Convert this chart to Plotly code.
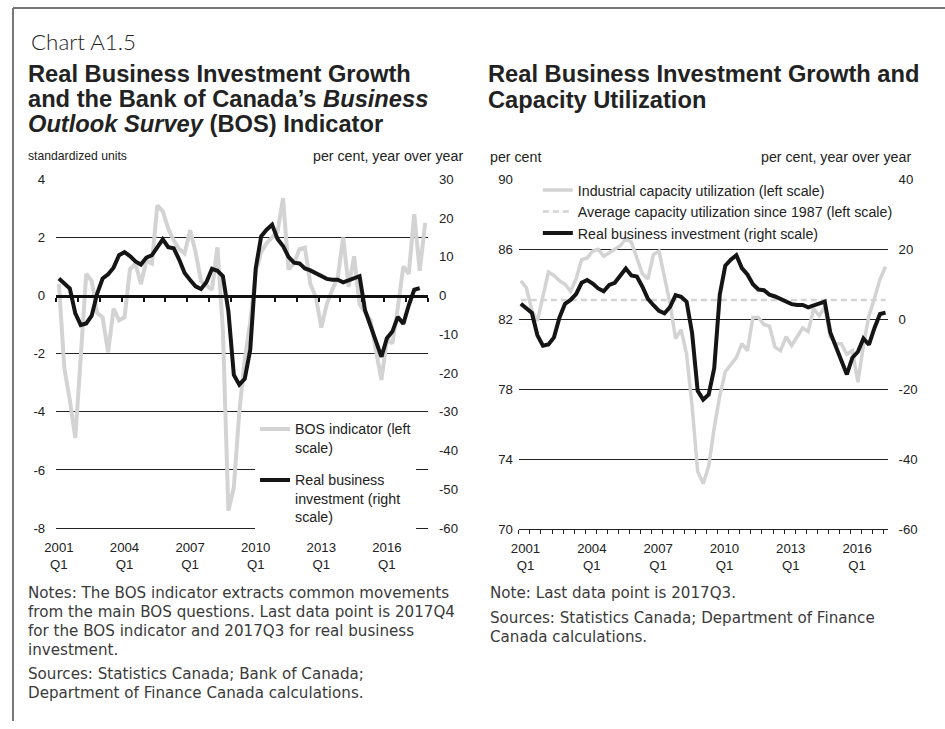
import plotly.graph_objects as go

# ---------------- data (quarterly, starting 2001Q1) ----------------
# BOS indicator, standardized units, 2001Q1..2017Q4
BOS = [0.4, -2.5, -3.6, -4.9, -2.1, 0.75, 0.5, -0.6, -0.75, -1.95,
       -0.45, -0.85, -0.75, 0.9, 1.1, 0.4, 1.2, 1.1, 3.1, 2.9,
       2.3, 1.9, 1.6, 1.45, 2.25, 1.5, 0.5, 0.35, 0.2, 1.66,
       -1.2, -7.4, -6.6, -4.0, -2.2, -0.9, 0.8, 1.5, 1.8, 2.0,
       2.2, 3.35, 0.9, 1.1, 1.6, 1.65, 0.4, -0.05, -1.1, -0.3,
       0.2, 0.6, 2.0, 0.3, 1.35, -0.3, -0.6, -0.85, -1.9, -2.9,
       -1.5, -1.65, -0.4, 1.0, 0.75, 2.8, 0.85, 2.5]

# Real business investment, % y/y, 2001Q1..2017Q3
RBI = [4.4, 3.0, 1.8, -4.6, -7.6, -7.2, -5.2, 0.5, 4.4, 5.5,
       7.2, 10.4, 11.2, 10.2, 8.8, 8.0, 9.8, 10.4, 12.6, 14.5,
       12.5, 12.2, 9.3, 5.8, 4.0, 2.4, 1.7, 3.5, 6.9, 6.4,
       5.0, -4.0, -20.5, -23.0, -21.5, -14.0, 7.0, 15.3, 17.0, 18.3,
       14.6, 12.8, 10.0, 8.5, 8.3, 7.0, 6.5, 5.7, 5.0, 4.3,
       4.1, 4.1, 3.4, 3.9, 4.4, 5.0, -3.8, -7.8, -12.2, -15.8,
       -11.0, -9.3, -5.5, -7.3, -2.5, 1.5, 1.9]

# Industrial capacity utilization, %, 2001Q1..2017Q3
CAPACITY = [84.2, 83.8, 82.5, 81.9, 83.3, 84.7, 84.5, 84.2, 84.0, 83.6,
            84.3, 85.4, 85.5, 85.9, 86.0, 85.6, 85.8, 86.0, 86.2, 86.6,
            86.4, 85.5, 84.6, 84.3, 85.7, 85.9, 84.5, 82.9, 80.9, 81.4,
            80.0, 77.0, 73.3, 72.6, 73.6, 75.8, 77.6, 79.0, 79.4, 79.8,
            80.6, 80.2, 82.1, 82.1, 81.7, 81.6, 80.4, 80.2, 81.0, 80.5,
            81.0, 81.5, 81.3, 82.6, 82.2, 82.7, 81.0, 80.6, 80.6, 80.0,
            80.2, 78.4, 80.5, 82.2, 83.2, 84.3, 85.0]

AVG_CAPACITY_SINCE_1987 = 83.1

TICK_YEARS = ["2001", "2004", "2007", "2010", "2013", "2016"]
TICK_TEXT = [y + "<br>Q1" for y in TICK_YEARS]

Y_BOS_TICKS = [4, 2, 0, -2, -4, -6, -8]
Y_RBI_LEFT_TICKS = [30, 20, 10, 0, -10, -20, -30, -40, -50, -60]
Y_CAP_TICKS = [90, 86, 82, 78, 74, 70]
Y_RBI_RIGHT_TICKS = [40, 20, 0, -20, -40, -60]

# ---------------- helpers ----------------
W, H = 945, 729
# mapping from target-picture pixels to page pixels (compensates the photo framing)
OX, SX = 10.8, 0.988
OY, SY = 6.6, 0.98
FS = 1 / 0.984

def fx(xr):
    return ((xr - OX) / SX) / W
def fy(yr):
    return 1 - ((yr - OY) / SY) / H
def fs(s):
    return round(s * FS, 2)

FONT = "Liberation Sans"
TXT = "#222222"
GRAY = "#d3d3d3"
BLACK = "#151515"

bos_x = list(range(len(BOS)))
rbi_x = list(range(len(RBI)))
cap_x = list(range(len(CAPACITY)))
avg_y = [AVG_CAPACITY_SINCE_1987] * len(CAPACITY)

fig = go.Figure()

# ---- left panel ----
fig.add_trace(go.Scatter(x=bos_x, y=BOS, mode="lines", name="BOS indicator (left<br>scale)",
                         line=dict(color=GRAY, width=4), xaxis="x", yaxis="y",
                         legend="legend", legendgroup="a"))
fig.add_trace(go.Scatter(x=rbi_x, y=RBI, mode="lines", name="Real business<br>investment (right<br>scale)",
                         line=dict(color=BLACK, width=4), xaxis="x", yaxis="y2",
                         legend="legend", legendgroup="b"))
# empty trace so the zero-line axis exists
fig.add_trace(go.Scatter(x=[], y=[], xaxis="x3", yaxis="y", showlegend=False, hoverinfo="skip"))

# ---- right panel ----
fig.add_trace(go.Scatter(x=cap_x, y=CAPACITY, mode="lines",
                         name="Industrial capacity utilization (left scale)",
                         line=dict(color=GRAY, width=3.5), xaxis="x2", yaxis="y3", legend="legend2"))
fig.add_trace(go.Scatter(x=cap_x, y=avg_y, mode="lines",
                         name="Average capacity utilization since 1987 (left scale)",
                         line=dict(color=GRAY, width=2.5, dash="6px,4px"), xaxis="x2", yaxis="y3",
                         legend="legend2"))
fig.add_trace(go.Scatter(x=rbi_x, y=RBI, mode="lines", name="Real business investment (right scale)",
                         line=dict(color=BLACK, width=4), xaxis="x2", yaxis="y4", legend="legend2"))

# ---- axes ----
L_X0, L_X1, L_Y0, L_Y1 = 55, 427, 179, 528
R_X0, R_X1, R_Y0, R_Y1 = 518, 887, 179, 529
tickfont = dict(family=FONT, size=fs(13), color=TXT)
label_pos = [12 * k for k in range(len(TICK_YEARS))]

ydom_left = [fy(L_Y1), fy(L_Y0)]
zero_pos = ydom_left[0] + (ydom_left[1] - ydom_left[0]) * (0 - (-8)) / (4 - (-8))

def ticks(vals):
    return dict(tickmode="array", tickvals=vals, ticktext=[str(v) for v in vals])

fig.update_layout(
    xaxis=dict(domain=[fx(L_X0), fx(L_X1)], anchor="y", range=[-0.5, 67.5],
               showgrid=False, zeroline=False, showline=True, linecolor="#222", linewidth=1.3,
               ticks="", tickmode="array", tickvals=label_pos, ticktext=TICK_TEXT,
               tickfont=tickfont, ticklabelstandoff=7),
    yaxis=dict(domain=ydom_left, anchor="x", range=[-8, 4], **ticks(Y_BOS_TICKS),
               showgrid=True, gridcolor="#222", gridwidth=1.2, zeroline=False,
               ticks="", tickfont=tickfont, ticklabelstandoff=10),
    yaxis2=dict(overlaying="y", side="right", anchor="x", range=[-60, 30], **ticks(Y_RBI_LEFT_TICKS),
                showgrid=False, zeroline=False, ticks="", tickfont=tickfont, ticklabelstandoff=10),
    xaxis3=dict(overlaying="x", anchor="free", position=zero_pos, range=[-0.5, 67.5],
                showgrid=False, zeroline=False, showline=True, linecolor="#111", linewidth=3,
                ticks="outside", tickmode="linear", tick0=-0.5, dtick=4, ticklen=4,
                tickwidth=1.5, tickcolor="#111", showticklabels=False),
    xaxis2=dict(domain=[fx(R_X0), fx(R_X1)], anchor="y3", range=[-0.36, 66.37],
                showgrid=False, zeroline=False, showline=True, linecolor="#222", linewidth=1.3,
                ticks="", tickmode="array", tickvals=[p + 0.85 for p in label_pos],
                ticktext=TICK_TEXT, tickfont=tickfont, ticklabelstandoff=7,
                minor=dict(ticks="outside", tickmode="linear", tick0=-0.36, dtick=2,
                           ticklen=4, tickwidth=1, tickcolor="#222", showgrid=False)),
    yaxis3=dict(domain=[fy(R_Y1), fy(R_Y0)], anchor="x2", range=[70, 90], **ticks(Y_CAP_TICKS),
                showgrid=True, gridcolor="#222", gridwidth=1.2, zeroline=False,
                ticks="", tickfont=tickfont, ticklabelstandoff=5),
    yaxis4=dict(overlaying="y3", side="right", anchor="x2", range=[-60, 40], **ticks(Y_RBI_RIGHT_TICKS),
                showgrid=False, zeroline=False, ticks="", tickfont=tickfont, ticklabelstandoff=10),
)

# ---- legends ----
fig.update_layout(
    legend=dict(x=fx(254), y=fy(413), xanchor="left", yanchor="top", bgcolor="white",
                font=dict(family=FONT, size=fs(14), color=TXT), valign="top",
                tracegroupgap=11, borderwidth=0),
    legend2=dict(x=fx(537), y=fy(174), xanchor="left", yanchor="top",
                 bgcolor="rgba(0,0,0,0)", font=dict(family=FONT, size=fs(14), color=TXT),
                 tracegroupgap=0, borderwidth=0),
)

# ---- text annotations ----
ann = []
def text(x, y, s, size, family=FONT, color=TXT, xanchor="left", weight="normal"):
    if xanchor == "left":
        x = x - 3
    ann.append(dict(x=fx(x), y=fy(y), xref="paper", yref="paper", text=s, showarrow=False,
                    xanchor=xanchor, yanchor="middle",
                    font=dict(family=family, size=fs(size), color=color, weight=weight)))

text(31, 41, "Chart A1.5", 22, family="Lato", weight=300)
TB = 23.3
text(28, 74, "<b>Real Business Investment Growth</b>", TB)
text(28, 99, "<b>and the Bank of Canada’s <i>Business</i></b>", TB)
text(28, 124, "<b><i>Outlook Survey</i> (BOS) Indicator</b>", TB)
text(488, 74, "<b>Real Business Investment Growth and</b>", TB)
text(488, 100, "<b>Capacity Utilization</b>", TB)

text(28, 156, "standardized units", 12)
text(464, 156, "per cent, year over year", 14, xanchor="right")
text(490, 157, "per cent", 14)
text(912, 157, "per cent, year over year", 14, xanchor="right")

NF = "DejaVu Sans"
NS = 14.9
NC = "#3a3a3a"
left_notes = [
    (593, "Notes: The BOS indicator extracts common movements"),
    (612, "from the main BOS questions. Last data point is 2017Q4"),
    (631, "for the BOS indicator and 2017Q3 for real business"),
    (650, "investment."),
    (674, "Sources: Statistics Canada; Bank of Canada;"),
    (693, "Department of Finance Canada calculations."),
]
for y, s in left_notes:
    text(28, y, s, NS, family=NF, color=NC)
right_notes = [
    (593, "Note: Last data point is 2017Q3."),
    (618, "Sources: Statistics Canada; Department of Finance"),
    (637, "Canada calculations."),
]
for y, s in right_notes:
    text(490, y, s, NS, family=NF, color=NC)

fig.update_layout(annotations=ann)

# ---- frame ----
fig.update_layout(shapes=[
    dict(type="line", xref="paper", yref="paper", x0=1 / W, x1=1, y0=1 - 1 / H, y1=1 - 1 / H,
         line=dict(color="#777", width=2)),
    dict(type="line", xref="paper", yref="paper", x0=1 / W, x1=1 / W, y0=1 - 1 / H, y1=0,
         line=dict(color="#777", width=2)),
])

fig.update_layout(width=W, height=H, margin=dict(l=0, r=0, t=0, b=0),
                  paper_bgcolor="white", plot_bgcolor="rgba(0,0,0,0)",
                  font=dict(family=FONT, color=TXT), showlegend=True)

fig.write_html("out.html", config={"displayModeBar": False},
               post_script="document.documentElement.style.margin='0';"
                           "document.body.style.margin='0';"
                           "document.body.style.overflow='hidden';")
